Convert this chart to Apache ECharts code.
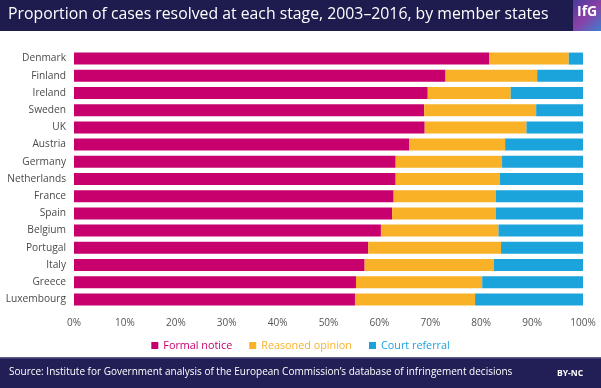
<!DOCTYPE html>
<html><head><meta charset="utf-8">
<script src="https://cdn.jsdelivr.net/npm/echarts@6/dist/echarts.min.js"></script>
<style>html,body{margin:0;padding:0;background:#fff}#c{width:601px;height:388px}</style>
</head><body><div id="c"></div>
<script>
const categories = ['Denmark','Finland','Ireland','Sweden','UK','Austria','Germany','Netherlands','France','Spain','Belgium','Portugal','Italy','Greece','Luxembourg'];
const formalNotice = [81.6,73.0,69.5,68.8,68.9,65.9,63.2,63.2,62.8,62.5,60.3,57.8,57.1,55.4,55.2];
const reasonedOpinion = [15.6,18.0,16.3,22.0,20.0,18.8,20.9,20.5,20.1,20.4,23.1,26.1,25.4,24.8,23.6];
const courtReferral = [2.8,9.0,14.2,9.2,11.1,15.3,15.9,16.3,17.1,17.1,16.6,16.1,17.5,19.8,21.2];
const xTicks = ['0%','10%','20%','30%','40%','50%','60%','70%','80%','90%','100%'];
const title = 'Proportion of cases resolved at each stage, 2003–2016, by member states';
const source = 'Source: Institute for Government analysis of the European Commission’s database of infringement decisions';

const font = '"Open Sans", sans-serif';
const chart = echarts.init(document.getElementById('c'), null, {renderer:'canvas'});
chart.setOption({
  animation:false,
  textStyle:{fontFamily:font},
  grid:{left:74, right:18, top:50, height:258},
  xAxis:{type:'value', min:0, max:100, interval:10,
    axisLabel:{formatter:(v)=>xTicks[Math.round(v/10)], color:'#555', fontSize:10, margin:10},
    splitLine:{show:false}, axisLine:{show:false}, axisTick:{show:false}},
  yAxis:{type:'category', data:categories, inverse:true,
    axisLabel:{color:'#4a4a4a', fontSize:10.2, margin:8},
    axisLine:{show:false}, axisTick:{show:false}},
  legend:{top:335, left:'center', itemWidth:7, itemHeight:7, itemGap:17, icon:'rect',
    textStyle:{fontSize:10.8, fontFamily:font},
    data:[{name:'Formal notice', textStyle:{color:'#c8006e'}},
          {name:'Reasoned opinion', textStyle:{color:'#f9b128'}},
          {name:'Court referral', textStyle:{color:'#1ba3dc'}}]},
  series:[
    {name:'Formal notice', type:'bar', stack:'s', data:formalNotice, barCategoryGap:'30%', itemStyle:{color:'#c8006e'}},
    {name:'Reasoned opinion', type:'bar', stack:'s', data:reasonedOpinion, itemStyle:{color:'#f9b128'}},
    {name:'Court referral', type:'bar', stack:'s', data:courtReferral, itemStyle:{color:'#1ba3dc'}}
  ],
  graphic:[
    {type:'rect', left:0, top:0, shape:{width:601, height:31}, style:{fill:'#1e1b4f'}},
    {type:'rect', left:573, top:0, shape:{width:28, height:31},
      style:{fill:new echarts.graphic.LinearGradient(0,0,1,1,[{offset:0,color:'#4b3a9e'},{offset:0.5,color:'#8a3fa6'},{offset:1,color:'#3d7fcf'}])}},
    {type:'text', left:577, top:5, style:{text:'IfG', fill:'#fff', font:'bold 14px "Open Sans", sans-serif'}},
    {type:'text', left:8, top:6, style:{text:title, fill:'#fff', font:'15.8px "Open Sans", sans-serif'}},
    {type:'rect', left:0, top:358, shape:{width:601, height:30}, style:{fill:'#221f57'}},
    {type:'rect', left:0, top:357, shape:{width:601, height:1.5}, style:{fill:'#5c5a8a'}},
    {type:'text', left:9, top:367, style:{text:source, fill:'#fff', font:'10px "Open Sans", sans-serif'}},
    {type:'text', left:557, top:369, style:{text:'BY-NC', fill:'#fff', font:'bold 8.5px "Open Sans", sans-serif'}}
  ]
});
</script></body></html>
